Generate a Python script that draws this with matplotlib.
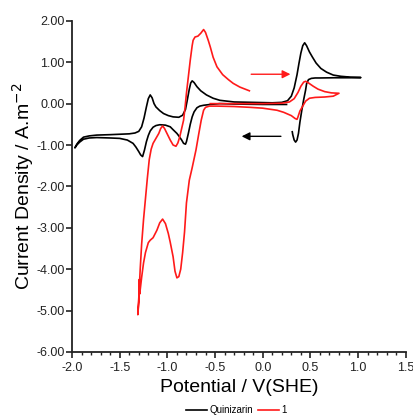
import numpy as np
import matplotlib
matplotlib.use('Agg')
import matplotlib.pyplot as plt
from matplotlib.ticker import MultipleLocator, FormatStrFormatter

plt.rcParams['font.family'] = ['Liberation Sans', 'DejaVu Sans']
plt.rcParams['axes.unicode_minus'] = False

# Quinizarin CV: potential (V vs SHE) and current density (A/m^2)
quin_E = [0.25, 0.0, -0.3, -0.45, -0.55, -0.62, -0.66, -0.69, -0.72, -0.74, -0.76, -0.78,
          -0.80, -0.81, -0.83, -0.85, -0.88, -0.90, -0.94, -0.97, -1.02, -1.08, -1.12, -1.15,
          -1.18, -1.20, -1.22, -1.24, -1.26, -1.28, -1.30, -1.33, -1.36, -1.42, -1.5, -1.6,
          -1.74, -1.82, -1.88, -1.92, -1.95, -1.97,
          -1.95, -1.92, -1.88, -1.82, -1.74, -1.6, -1.5, -1.4, -1.34, -1.30, -1.27, -1.245,
          -1.22, -1.20, -1.18, -1.16, -1.14, -1.12, -1.08, -1.04, -0.99, -0.94, -0.88, -0.84,
          -0.81, -0.79, -0.77, -0.755, -0.74, -0.72, -0.69, -0.65, -0.59, -0.52, -0.45, -0.3,
          -0.1, 0.1, 0.2, 0.26, 0.30, 0.33, 0.36, 0.38, 0.40, 0.42, 0.44, 0.46, 0.49, 0.52,
          0.56, 0.61, 0.67, 0.74, 0.82, 0.92, 1.03,
          0.92, 0.75, 0.6, 0.55, 0.51, 0.48, 0.46, 0.45, 0.43, 0.41, 0.39, 0.375, 0.36,
          0.345, 0.33, 0.315, 0.31]
quin_j = [-0.02, -0.02, -0.01, 0.0, -0.02, -0.04, -0.06, -0.10, -0.20, -0.32, -0.50, -0.72,
          -0.92, -0.98, -0.96, -0.88, -0.78, -0.72, -0.63, -0.56, -0.52, -0.51, -0.53, -0.57,
          -0.66, -0.77, -0.92, -1.12, -1.28, -1.24, -1.16, -1.05, -0.96, -0.88, -0.84, -0.83,
          -0.82, -0.83, -0.86, -0.93, -1.00, -1.07,
          -0.98, -0.89, -0.81, -0.78, -0.76, -0.75, -0.74, -0.73, -0.71, -0.67, -0.56, -0.35,
          -0.08, 0.12, 0.21, 0.14, 0.0, -0.08, -0.17, -0.24, -0.29, -0.32, -0.33, -0.28,
          -0.14, 0.10, 0.35, 0.50, 0.55, 0.51, 0.41, 0.31, 0.21, 0.13, 0.08, 0.04,
          0.03, 0.02, 0.03, 0.07, 0.18, 0.38, 0.70, 0.97, 1.22, 1.40, 1.47, 1.40, 1.25, 1.13,
          0.98, 0.85, 0.76, 0.69, 0.66, 0.64, 0.63,
          0.625, 0.625, 0.62, 0.62, 0.61, 0.58, 0.48, 0.33, 0.10, -0.16, -0.45, -0.72, -0.88,
          -0.93, -0.88, -0.75, -0.68]

# compound 1 CV
c1_E = [-0.55, -0.4, -0.2, 0.0, 0.2, 0.28, 0.33, 0.37, 0.40, 0.43, 0.45, 0.48, 0.53, 0.58,
        0.65, 0.72, 0.80,
        0.74, 0.65, 0.55, 0.49, 0.45, 0.42, 0.39, 0.37, 0.36, 0.34, 0.30, 0.22, 0.15, 0.0,
        -0.13, -0.3, -0.48, -0.56, -0.60, -0.62, -0.645, -0.67, -0.70, -0.74, -0.77, -0.80,
        -0.82, -0.84, -0.86, -0.88, -0.90, -0.92, -0.94, -0.97, -0.99, -1.02, -1.05, -1.08,
        -1.11, -1.15, -1.18, -1.20, -1.23, -1.25, -1.27, -1.28, -1.29, -1.295, -1.30, -1.31,
        -1.30, -1.285, -1.27, -1.25, -1.23, -1.21, -1.19, -1.17, -1.15, -1.12, -1.09, -1.07,
        -1.05, -1.03, -1.00, -0.97, -0.94, -0.91, -0.89, -0.87, -0.85, -0.83, -0.815, -0.80,
        -0.78, -0.76, -0.74, -0.73, -0.71, -0.68, -0.65, -0.62, -0.60, -0.57, -0.55, -0.52,
        -0.48, -0.42, -0.36, -0.31, -0.24, -0.14]
c1_j = [0.0, 0.0, 0.0, 0.0, 0.01, 0.04, 0.12, 0.27, 0.42, 0.52, 0.54, 0.50, 0.42, 0.35,
        0.29, 0.26, 0.25,
        0.18, 0.16, 0.15, 0.13, 0.06, -0.06, -0.18, -0.32, -0.38, -0.36, -0.29, -0.21, -0.16, -0.11,
        -0.09, -0.07, -0.06, -0.06, -0.09, -0.16, -0.40, -0.72, -1.12, -1.55, -1.85, -2.40,
        -3.10, -3.60, -4.00, -4.18, -4.21, -4.05, -3.70, -3.35, -3.14, -2.90, -2.79, -2.88,
        -3.06, -3.24, -3.30, -3.36, -3.60, -3.85, -4.20, -4.40, -4.60, -4.25, -4.80, -5.10,
        -4.70, -4.00, -3.40, -2.80, -2.30, -1.80, -1.35, -1.10, -0.96, -0.84, -0.72, -0.60,
        -0.54, -0.60, -0.74, -0.88, -1.00, -1.03, -0.95, -0.80, -0.60, -0.40, -0.10, 0.25,
        0.65, 1.05, 1.40, 1.53, 1.61, 1.63, 1.70, 1.79, 1.72, 1.52, 1.37, 1.12,
        0.89, 0.70, 0.58, 0.49, 0.40, 0.31]

fig = plt.figure(figsize=(4.14, 4.17), dpi=100)
ax = fig.add_axes([0.174, 0.156, 0.806, 0.794])

ax.plot(quin_E, quin_j, color='black', lw=1.2, label='Quinizarin')
ax.plot(c1_E, c1_j, color='#ff1a1a', lw=1.2, label='1')

# scan direction arrows
ax.annotate('', xy=(0.32, 0.71), xytext=(-0.15, 0.71),
            arrowprops=dict(arrowstyle='-|>', color='#ff1a1a', lw=1.0, mutation_scale=12))
ax.annotate('', xy=(-0.25, -0.79), xytext=(0.22, -0.79),
            arrowprops=dict(arrowstyle='-|>', color='black', lw=1.0, mutation_scale=12))

ax.set_xlim(-2.0, 1.5)
ax.set_ylim(-6.0, 2.0)
ax.xaxis.set_major_locator(MultipleLocator(0.5))
ax.xaxis.set_minor_locator(MultipleLocator(0.1))
ax.yaxis.set_major_locator(MultipleLocator(1.0))
ax.xaxis.set_major_formatter(FormatStrFormatter('%.1f'))
ax.yaxis.set_major_formatter(FormatStrFormatter('%.2f'))

for s in ['top', 'right']:
    ax.spines[s].set_visible(False)
for s in ['left', 'bottom']:
    ax.spines[s].set_linewidth(1.3)
    ax.spines[s].set_color('#222222')
ax.tick_params(which='major', direction='out', length=4, width=1.2, labelsize=9, colors='#222222')
ax.tick_params(axis='x', which='major', pad=3)
ax.tick_params(axis='y', which='major', pad=1.5)
ax.tick_params(which='minor', direction='out', length=2.5, width=1.0, colors='#222222')

ax.set_xlabel('Potential / V(SHE)', fontsize=14, labelpad=4)
ax.set_ylabel('Current Density / A.m$^{-2}$', fontsize=14, labelpad=0)

fig.legend(loc='center', bbox_to_anchor=(0.57, 0.017), ncol=2, frameon=False, fontsize=7,
           handlelength=2.2, handletextpad=0.2, columnspacing=0.5)

fig.savefig('out.png', dpi=100)
